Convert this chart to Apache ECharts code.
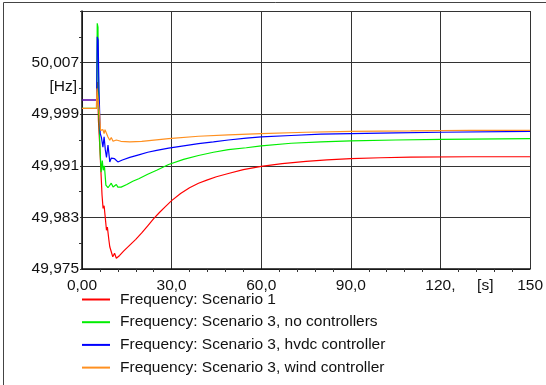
<!DOCTYPE html>
<html>
<head>
<meta charset="utf-8">
<script src="https://cdn.jsdelivr.net/npm/echarts@6/dist/echarts.min.js"></script>
<style>html,body{margin:0;padding:0;background:#fff}#c{width:546px;height:385px}</style>
</head>
<body>
<div id="c"></div>
<script>
// ---- data (time in s, frequency in Hz) ----
var seriesNames = [
  'Frequency: Scenario 1',
  'Frequency: Scenario 3, no controllers',
  'Frequency: Scenario 3, hvdc controller',
  'Frequency: Scenario 3, wind controller'
];
var scenario1 = [[0,50.0012],[4.9,50.0012],[5.2,50.004],[5.5,49.998],[5.9,49.9945],[6.3,49.9905],[6.7,49.9865],[7.05,49.9844],[7.4,49.9848],[7.7,49.9834],[8.2,49.9810],[8.5,49.9815],[9.0,49.9795],[9.3,49.97845],[9.7,49.9787],[10.3,49.9769],[10.9,49.97743],[11.5,49.97666],[12.0,49.9768],[12.6,49.9771],[14,49.9778],[16,49.9787],[18,49.9796],[20,49.9806],[22,49.9817],[24,49.9828],[26,49.9838],[28,49.9847],[30,49.9856],[33,49.9867],[36,49.9876],[39,49.9883],[42,49.98882],[45,49.9893],[49,49.9898],[54,49.9904],[60,49.9909],[67,49.99135],[75,49.9917],[82,49.99193],[90,49.9921],[100,49.99225],[110,49.99235],[130,49.9924],[150,49.9924]];
var scenario3None = [[0,49.9999],[4.9,49.9999],[5.1,50.0131],[5.35,50.0125],[5.6,50.0000],[6.0,49.9940],[6.4,49.9900],[6.8,49.9918],[7.1,49.9903],[7.5,49.9910],[8.0,49.9880],[8.7,49.9876],[9.3,49.9875],[9.8,49.9883],[10.4,49.9877],[11.0,49.9880],[11.5,49.9881],[12.0,49.9877],[13.1,49.9877],[15,49.9881],[17,49.9886],[19,49.9890],[22,49.9897],[25,49.9903],[29,49.9912],[34,49.9920],[39,49.9926],[44,49.9931],[49,49.9935],[55,49.9938],[60,49.9941],[70,49.9945],[80,49.9947],[90,49.99485],[105,49.9950],[120,49.9951],[150,49.9952]];
var scenario3Hvdc = [[0,50.0012],[4.9,50.0012],[5.1,50.0110],[5.4,50.0105],[5.7,50.0027],[6.1,49.9960],[6.5,49.9954],[7.0,49.9939],[7.4,49.9955],[7.8,49.9935],[8.2,49.9923],[8.7,49.9942],[9.3,49.9916],[9.8,49.9922],[10.4,49.9921],[10.9,49.9921],[11.5,49.9918],[12.0,49.9916],[13.5,49.9919],[16,49.9923],[19,49.9927],[22,49.9931],[25,49.9934],[29,49.99375],[34,49.9941],[39,49.99445],[44,49.9947],[49,49.9950],[55,49.9953],[60,49.99547],[70,49.9957],[80,49.9959],[90,49.9960],[105,49.9961],[120,49.9962],[150,49.99635]];
var scenario3Wind = [[0,49.9999],[4.8,49.9999],[5.0,50.0030],[5.5,50.0030],[5.9,49.9990],[6.2,49.9965],[6.6,49.9962],[7.0,49.9966],[7.4,49.9960],[7.7,49.9966],[8.2,49.9965],[8.7,49.99547],[9.3,49.99496],[9.8,49.9954],[10.4,49.9948],[11.5,49.9950],[13,49.9948],[16,49.9947],[20,49.9948],[29,49.9952],[39,49.99558],[49,49.9958],[60,49.9960],[75,49.9962],[90,49.99635],[110,49.9964],[130,49.9965],[150,49.9965]];
var seriesColors = ['#ff0000','#00ee00','#0000ff','#ff9020'];

var xTickLabels = ['0,00','30,0','60,0','90,0','120,','150'];
var yTickLabels = ['49,975','49,983','49,991','49,999','50,007',''];
var yMinHz = 49.975, yMaxHz = 50.015;
var xUnit = '[s]', yUnit = '[Hz]';

var FONT = 'Liberation Sans, Arial, sans-serif';
var chart = echarts.init(document.getElementById('c'), null, {renderer:'canvas'});
var all = [scenario1, scenario3None, scenario3Hvdc, scenario3Wind];
var option = {
  animation: false,
  backgroundColor: '#fff',
  grid: {left: 82, top: 11, right: 11, bottom: 116, containLabel: false},
  legend: {
    orient: 'vertical', left: 82, top: 291.5, padding: 0, itemGap: 6.7,
    itemWidth: 28, itemHeight: 2, icon: 'rect',
    textStyle: {fontFamily: FONT, fontSize: 15.5, color: '#111', lineHeight: 15, padding: [0,0,0,5]},
    data: seriesNames
  },
  xAxis: {
    type: 'value', min: 0, max: 150, interval: 30,
    axisLine: {show: true, lineStyle: {color: '#111', width: 1.5}},
    axisTick: {show: false},
    minorTick: {show: true, splitNumber: 5, length: 3, lineStyle: {color: '#333'}},
    splitLine: {show: true, lineStyle: {color: '#333', width: 1}},
    axisLabel: {margin: 9, fontFamily: FONT, fontSize: 15.5, color: '#111',
      formatter: function(v){ return xTickLabels[Math.round(v/30)]; }}
  },
  yAxis: [{
    type: 'value', min: 0, max: 5, interval: 1,
    axisLine: {show: true, lineStyle: {color: '#111', width: 1.5}},
    axisTick: {show: true, inside: false, length: 2, lineStyle: {color: '#333'}},
    minorTick: {show: true, splitNumber: 2, length: 3, lineStyle: {color: '#333'}},
    splitLine: {show: true, lineStyle: {color: '#333', width: 1}},
    axisLabel: {margin: 3, fontFamily: FONT, fontSize: 15.5, color: '#111',
      formatter: function(v){ return yTickLabels[Math.round(v)]; }}
  }, {
    type: 'value', min: yMinHz, max: yMaxHz, show: false,
    axisLine: {show: false}, splitLine: {show: false}, axisLabel: {show: false}, axisTick: {show: false}
  }],
  series: all.map(function(d, i){
    return {name: seriesNames[i], type: 'line', yAxisIndex: 1, data: d, showSymbol: false, symbol: 'none',
      lineStyle: {width: 1.2, color: seriesColors[i]}, itemStyle: {color: seriesColors[i]}};
  })
};
chart.setOption(option);
var pS = chart.convertToPixel({xAxisIndex: 0}, 135);
var pHz = chart.convertToPixel({yAxisIndex: 1}, 50.0032);
chart.setOption({
  graphic: [
    {type: 'rect', shape: {x: 3.5, y: 2.5, width: 700, height: 600}, style: {fill: 'none', stroke: '#444', lineWidth: 1}, silent: true, z: 100},
    {type: 'text', x: 77, y: pHz, style: {text: yUnit, fontFamily: FONT, fontSize: 15.5, fill: '#111', align: 'right', verticalAlign: 'middle'}},
    {type: 'text', x: pS, y: 278, style: {text: xUnit, fontFamily: FONT, fontSize: 15.5, fill: '#111', align: 'center', verticalAlign: 'top'}}
  ]
});
</script>
</body>
</html>
